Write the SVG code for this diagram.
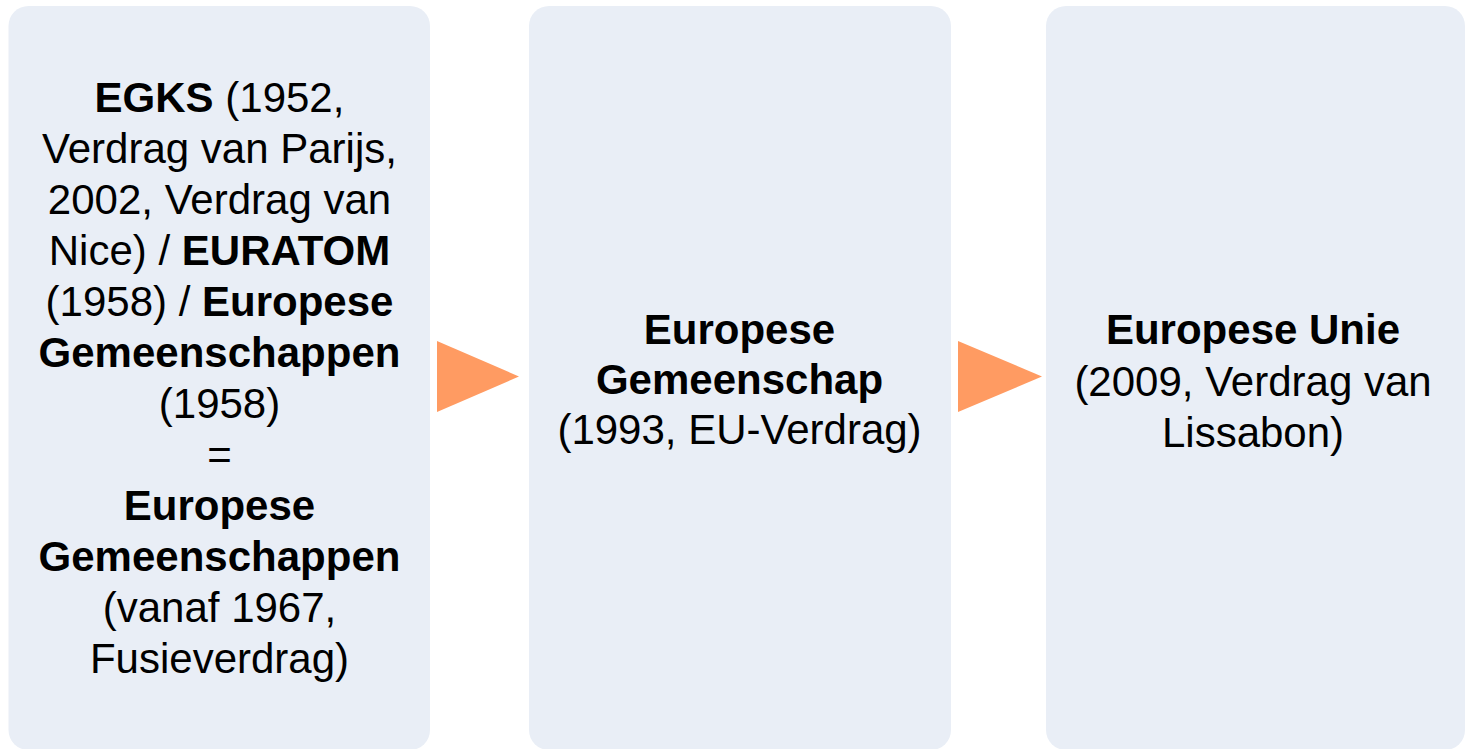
<svg xmlns="http://www.w3.org/2000/svg" width="1465" height="749" viewBox="0 0 1465 749">
<style>
.box{fill:#E9EEF6;}
.arr{fill:#FF9B62;}
text{font-family:"Liberation Sans",Arial,sans-serif;font-size:42px;fill:#000;text-anchor:middle;}
.b{font-weight:bold;}
</style>
<rect width="1465" height="749" fill="#fff"/>
<g id="node1">
<rect class="box" x="8.5" y="6" width="421.5" height="744" rx="20"/>
<text x="219.5" y="112"><tspan class="b">EGKS</tspan> (1952,</text>
<text x="219.5" y="163">Verdrag van Parijs,</text>
<text x="219.5" y="214">2002, Verdrag van</text>
<text x="219.5" y="265">Nice) / <tspan class="b">EURATOM</tspan></text>
<text x="219.5" y="316">(1958) / <tspan class="b">Europese</tspan></text>
<text x="219.5" y="367" class="b">Gemeenschappen</text>
<text x="219.5" y="418">(1958)</text>
<text x="219.5" y="469">=</text>
<text x="219.5" y="520" class="b">Europese</text>
<text x="219.5" y="571" class="b">Gemeenschappen</text>
<text x="219.5" y="622">(vanaf 1967,</text>
<text x="219.5" y="673">Fusieverdrag)</text>
</g>
<g id="node2">
<rect class="box" x="529" y="6" width="422" height="744" rx="20"/>
<text x="739.5" y="344" class="b">Europese</text>
<text x="739.5" y="394" class="b">Gemeenschap</text>
<text x="739.5" y="444">(1993, EU-Verdrag)</text>
</g>
<g id="node3">
<rect class="box" x="1046" y="6" width="419" height="744" rx="20"/>
<text x="1253" y="344" class="b">Europese Unie</text>
<text x="1253" y="396">(2009, Verdrag van</text>
<text x="1253" y="447">Lissabon)</text>
</g>
<g id="connectors">
<polygon class="arr" points="437,341 519,376.5 437,412"/>
<polygon class="arr" points="958,341 1042,376.5 958,412"/>
</g>
</svg>
